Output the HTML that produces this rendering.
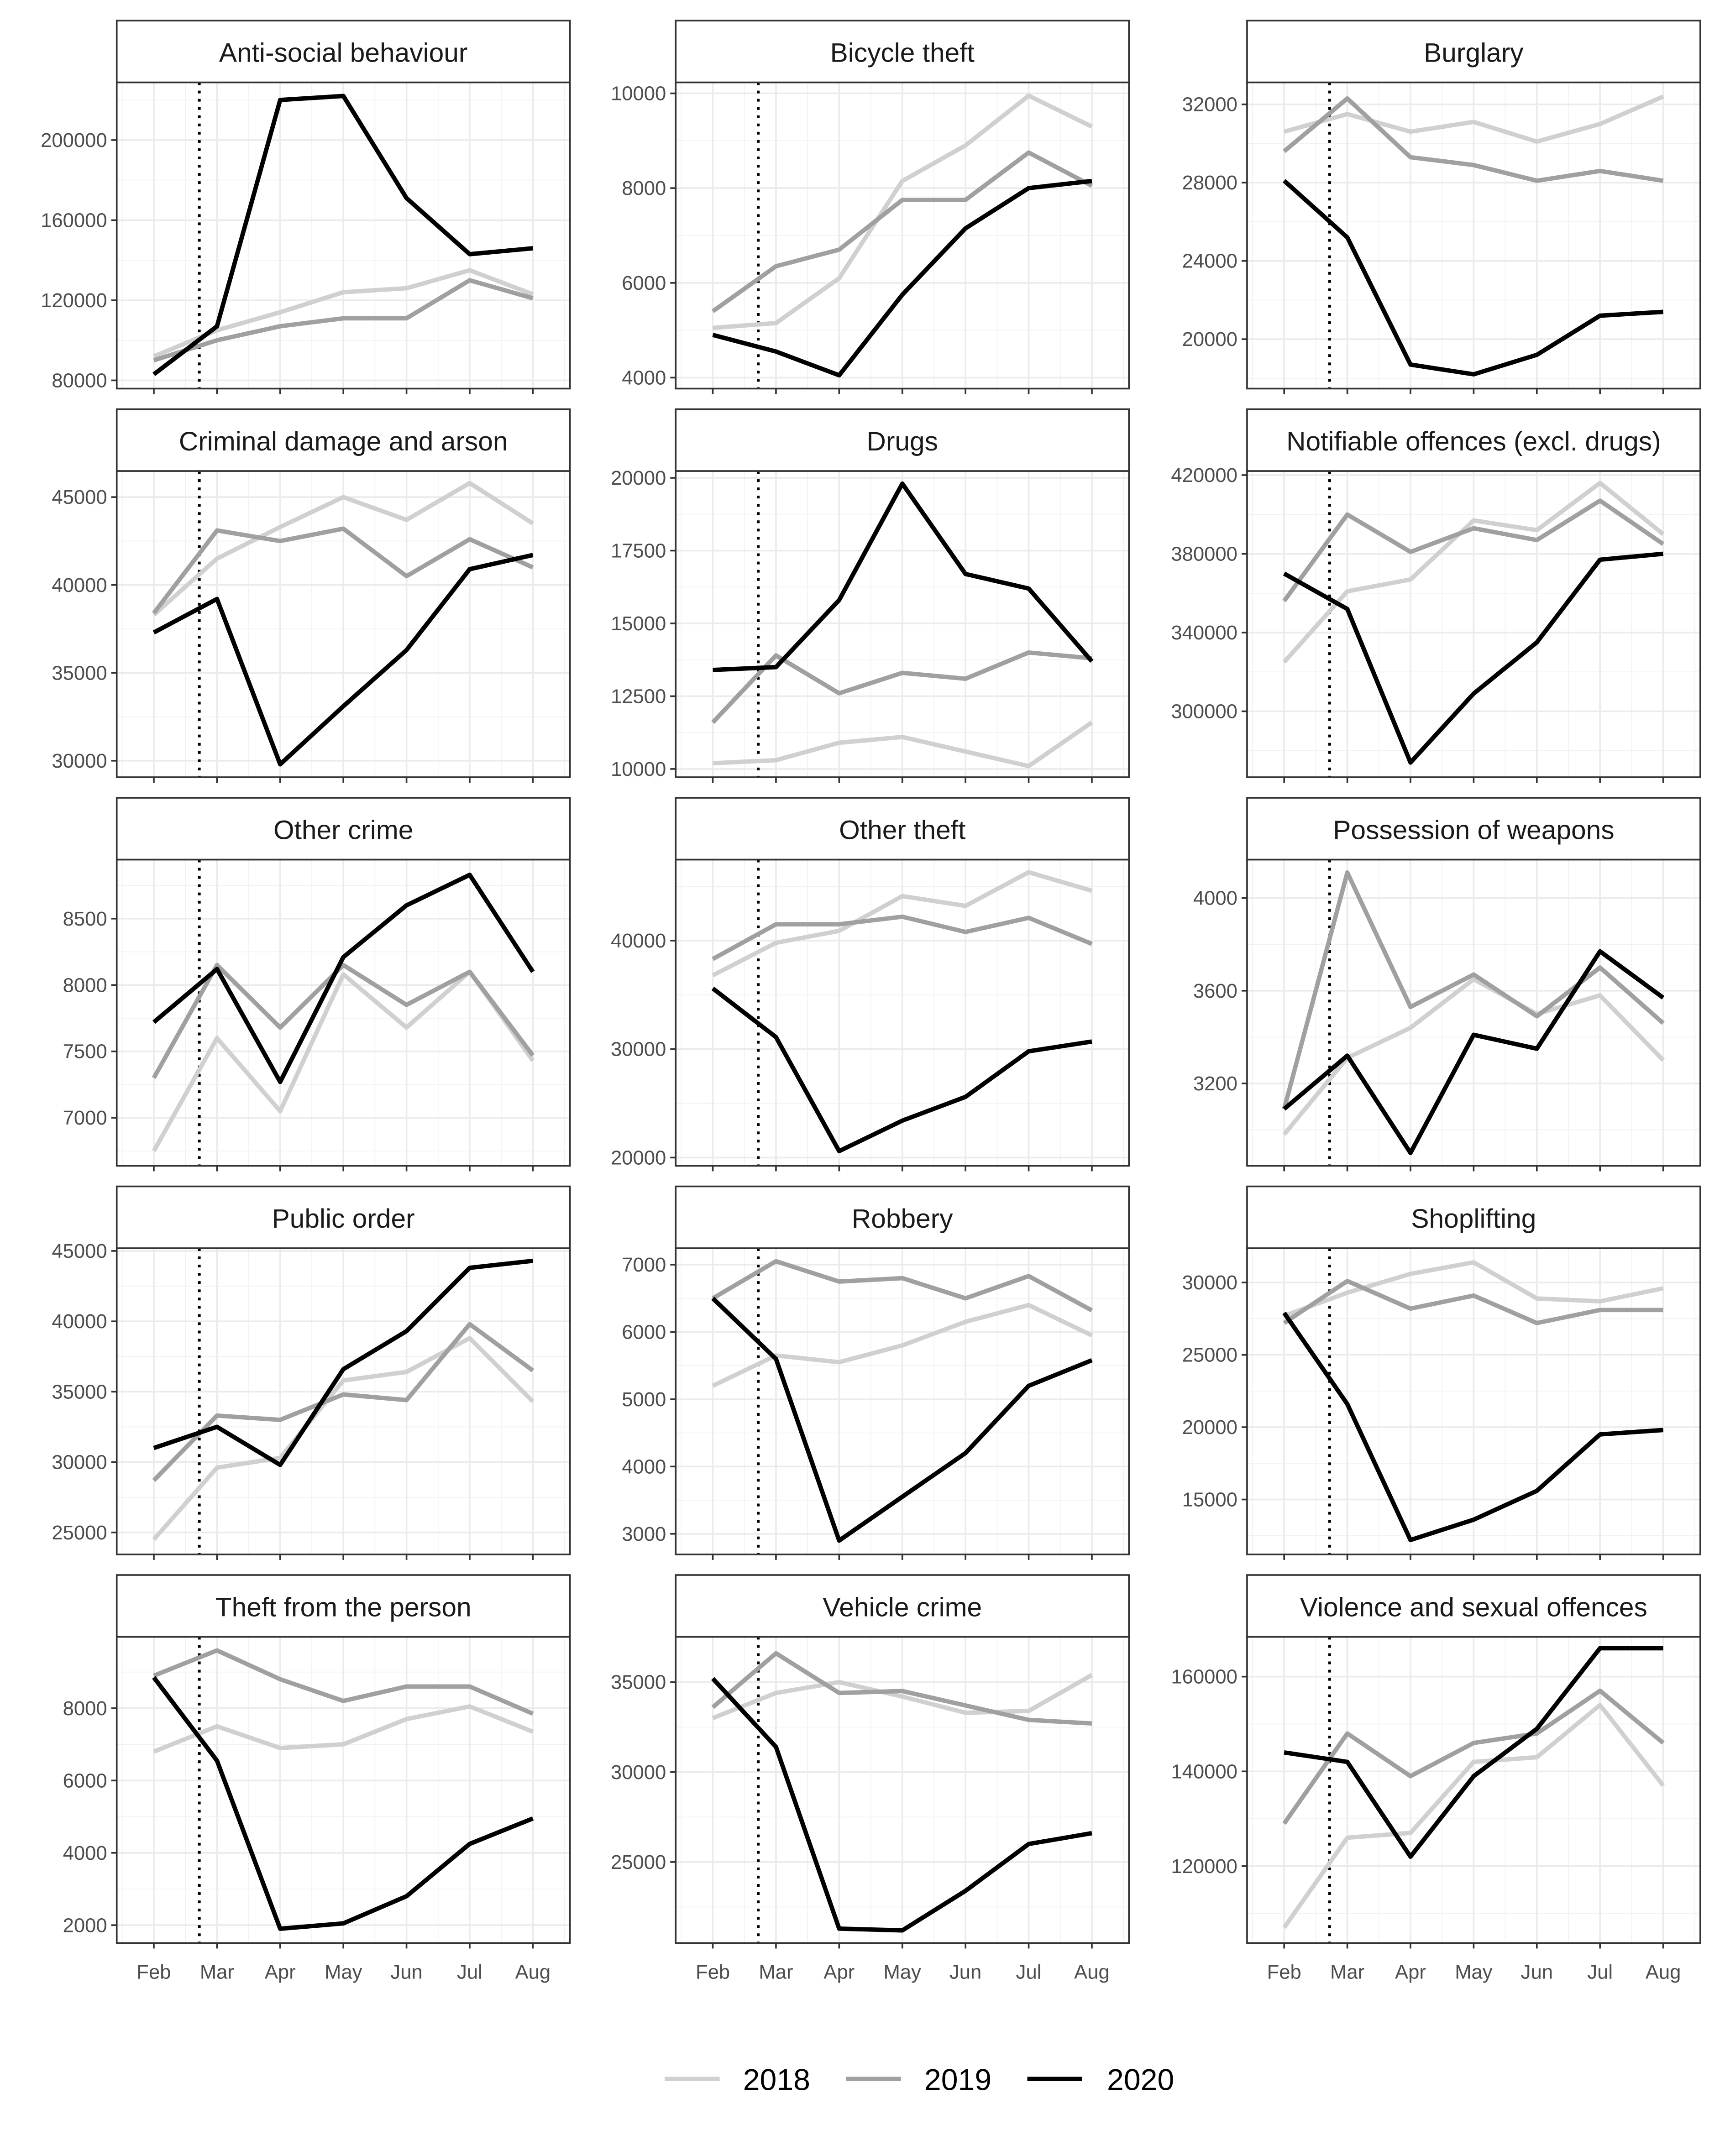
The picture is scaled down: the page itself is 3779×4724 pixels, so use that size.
<!DOCTYPE html>
<html><head><meta charset="utf-8"><style>
html,body{margin:0;padding:0;background:#fff;}
svg{display:block;font-family:"Liberation Sans",sans-serif;}
</style></head><body>
<svg id="chart" width="3779" height="4724" viewBox="0 0 1256 1570.1" preserveAspectRatio="none" xmlns="http://www.w3.org/2000/svg">
<rect width="1256" height="1571" fill="#fff"/>
<g id="panels"></g>
<g id="legend">
<line x1="484" y1="1514" x2="524" y2="1514" stroke="#d0d0d0" stroke-width="3.2"/>
<text x="541" y="1522" font-size="22" fill="#000">2018</text>
<line x1="616" y1="1514" x2="656" y2="1514" stroke="#a0a0a0" stroke-width="3.2"/>
<text x="673" y="1522" font-size="22" fill="#000">2019</text>
<line x1="748" y1="1514" x2="788" y2="1514" stroke="#000" stroke-width="3.2"/>
<text x="806" y="1522" font-size="22" fill="#000">2020</text>
</g>
</svg>
<script>
const months = ["Feb","Mar","Apr","May","Jun","Jul","Aug"];
const lockdownIndex = 0.72;
const titles = ["Anti-social behaviour","Bicycle theft","Burglary","Criminal damage and arson","Drugs","Notifiable offences (excl. drugs)","Other crime","Other theft","Possession of weapons","Public order","Robbery","Shoplifting","Theft from the person","Vehicle crime","Violence and sexual offences"];
const ticks = [
[80000,120000,160000,200000],[4000,6000,8000,10000],[20000,24000,28000,32000],
[30000,35000,40000,45000],[10000,12500,15000,17500,20000],[300000,340000,380000,420000],
[7000,7500,8000,8500],[20000,30000,40000],[3200,3600,4000],
[25000,30000,35000,40000,45000],[3000,4000,5000,6000,7000],[15000,20000,25000,30000],
[2000,4000,6000,8000],[25000,30000,35000],[120000,140000,160000]];
// calibration: [value, pixelY] pairs (display coords)
const calib = [
[80000,277,200000,102],[4000,275,10000,68],[20000,247,32000,76],
[30000,554,45000,362],[10000,560,20000,348],[300000,518,420000,346],
[7000,814,8500,669],[20000,843,40000,685],[3200,789,4000,654],
[25000,1116,45000,911],[3000,1117,7000,921],[15000,1092,30000,934],
[2000,1402,8000,1244],[25000,1356,35000,1225],[120000,1359,160000,1221]];
const s2018 = [
[92000,105000,114000,124000,126000,135000,123000],
[5050,5150,6100,8150,8900,9950,9300],
[30600,31500,30600,31100,30100,31000,32400],
[38300,41500,43300,45000,43700,45800,43500],
[10200,10300,10900,11100,10600,10100,11600],
[325000,361000,367000,397000,392000,416000,390000],
[6750,7600,7050,8080,7680,8100,7430],
[36800,39800,40900,44100,43200,46300,44600],
[2980,3310,3440,3650,3500,3580,3300],
[24500,29600,30300,35800,36400,38800,34300],
[5200,5650,5550,5800,6150,6400,5950],
[27700,29300,30600,31400,28900,28700,29600],
[6800,7500,6900,7000,7700,8050,7350],
[33000,34400,35000,34200,33300,33400,35400],
[107000,126000,127000,142000,143000,154000,137000]];
const s2019 = [
[90000,100000,107000,111000,111000,130000,121000],
[5400,6350,6700,7750,7750,8750,8050],
[29600,32300,29300,28900,28100,28600,28100],
[38400,43100,42500,43200,40500,42600,41000],
[11600,13900,12600,13300,13100,14000,13800],
[356000,400000,381000,393000,387000,407000,385000],
[7300,8150,7680,8150,7850,8100,7470],
[38300,41500,41500,42200,40800,42100,39700],
[3090,4110,3530,3670,3490,3700,3460],
[28700,33300,33000,34800,34400,39800,36500],
[6500,7050,6750,6800,6500,6830,6320],
[27200,30100,28200,29100,27200,28100,28100],
[8900,9600,8800,8200,8600,8600,7850],
[33600,36600,34400,34500,33700,32900,32700],
[129000,148000,139000,146000,148000,157000,146000]];
const s2020 = [
[83000,107000,220000,222000,171000,143000,146000],
[4900,4550,4050,5750,7150,8000,8150],
[28100,25200,18700,18200,19200,21200,21400],
[37300,39200,29800,33100,36300,40900,41700],
[13400,13500,15800,19800,16700,16200,13700],
[370000,352000,274000,309000,335000,377000,380000],
[7720,8120,7270,8210,8600,8830,8100],
[35600,31100,20600,23400,25600,29800,30700],
[3090,3320,2900,3410,3350,3770,3570],
[31000,32500,29800,36600,39300,43800,44300],
[6500,5600,2900,3550,4200,5200,5580],
[27900,21600,12200,13600,15600,19500,19800],
[8850,6550,1900,2050,2800,4250,4950],
[35200,31400,21300,21200,23400,26000,26600],
[144000,142000,122000,139000,149000,166000,166000]];

const NS="http://www.w3.org/2000/svg";
const root=document.getElementById('panels');
function mk(tag,attrs,parent){const e=document.createElementNS(NS,tag);for(const k in attrs)e.setAttribute(k,attrs[k]);parent.appendChild(e);return e;}
const colX=[85,492,908], W=330;
const fmt=v=>String(v);
titles.forEach((t,i)=>{
  const c=i%3,r=Math.floor(i/3);
  const x0=colX[c], sTop=15+r*283, pTop=sTop+45, pBot=pTop+223;
  const [v1,p1,v2,p2]=calib[i];
  const ys=v=>p1+(v-v1)*(p2-p1)/(v2-v1);
  const xs=k=>x0+27+k*46;
  const g=mk('g',{},root);
  
  
  // clip
  const cid='clip'+i;
  const cp=mk('clipPath',{id:cid},g);mk('rect',{x:x0,y:pTop,width:W,height:223},cp);
  const grid=mk('g',{'clip-path':'url(#'+cid+')'},g);
  // minor grids
  const tk=ticks[i], step=tk[1]-tk[0];
  for(let v=tk[0]-step*3+step/2; v<tk[tk.length-1]+step*3; v+=step){
    mk('line',{x1:x0,x2:x0+W,y1:ys(v),y2:ys(v),stroke:'#f2f2f2','stroke-width':0.6},grid);}
  for(let k=-0.5;k<7;k++) mk('line',{x1:xs(k),x2:xs(k),y1:pTop,y2:pBot,stroke:'#f2f2f2','stroke-width':0.6},grid);
  tk.forEach(v=>mk('line',{x1:x0,x2:x0+W,y1:ys(v),y2:ys(v),stroke:'#ebebeb','stroke-width':1.2},grid));
  months.forEach((m,k)=>mk('line',{x1:xs(k),x2:xs(k),y1:pTop,y2:pBot,stroke:'#ebebeb','stroke-width':1.2},grid));
  // dotted line
  const dl=mk('line',{x1:xs(lockdownIndex),x2:xs(lockdownIndex),y1:pTop,y2:pBot,stroke:'#000','stroke-width':2,'stroke-dasharray':'2,4'},grid);
  
  
  [[s2018,'#d0d0d0','2018'],[s2019,'#a0a0a0','2019'],[s2020,'#000','2020']].forEach(([s,col,yr])=>{
    const pts=s[i].map((v,k)=>xs(k).toFixed(1)+','+ys(v).toFixed(1)).join(' ');
    const pl=mk('polyline',{points:pts,fill:'none',stroke:col,'stroke-width':3.2,'stroke-linejoin':'round'},grid);
    
    
  });
  mk('rect',{x:x0,y:pTop,width:W,height:223,fill:'none',stroke:'#333','stroke-width':1.2},g);
  // strip
  mk('rect',{x:x0,y:sTop,width:W,height:45,fill:'#fff',stroke:'#333','stroke-width':1.2},g);
  const st=mk('text',{x:x0+W/2,y:sTop+30,'text-anchor':'middle','font-size':19.5,fill:'#1a1a1a'},g);
  st.textContent=t;
  
  
  // y ticks
  tk.forEach(v=>{
    mk('line',{x1:x0-4,x2:x0,y1:ys(v),y2:ys(v),stroke:'#333','stroke-width':1.2},g);
    const tx=mk('text',{x:x0-7,y:ys(v)+5,'text-anchor':'end','font-size':14.5,fill:'#4d4d4d'},g);
    tx.textContent=fmt(v);
    
    
  });
  months.forEach((m,k)=>{
    mk('line',{x1:xs(k),x2:xs(k),y1:pBot,y2:pBot+4,stroke:'#333','stroke-width':1.2},g);
    if(r===4){
      const tx=mk('text',{x:xs(k),y:pBot+26,'text-anchor':'middle','font-size':14.5,fill:'#4d4d4d'},g);
      tx.textContent=m;
      
      
    }
  });
});
</script>
</body></html>
